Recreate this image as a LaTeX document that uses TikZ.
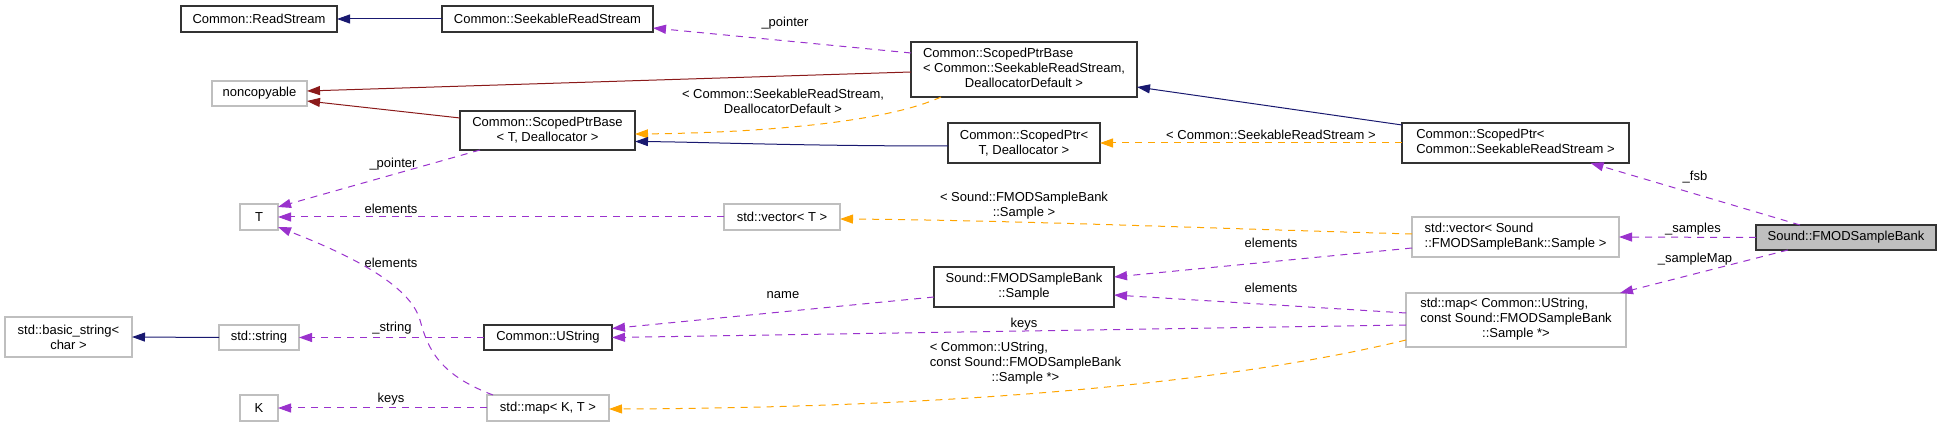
\documentclass[tikz,border=0pt]{standalone}
\usepackage{fontspec}
\setmainfont{Liberation Sans}
\usetikzlibrary{arrows.meta,calc}
\definecolor{inhblue}{HTML}{191970}
\definecolor{privred}{HTML}{8B1A1A}
\definecolor{usepurple}{HTML}{9A32CD}
\definecolor{tmplorange}{HTML}{FFA500}
\definecolor{boxgray}{HTML}{BFBFBF}
\newcommand{\LL}[1]{\begin{tabular}{@{}l@{}}#1\end{tabular}}
\newcommand{\CL}[1]{\multicolumn{1}{@{}c@{}}{#1}}
\begin{document}
\begin{tikzpicture}[x=1pt,y=-1pt,
  every node/.style={font=\fontsize{13}{15}\selectfont, inner sep=0pt, outer sep=0pt},
  cls/.style={draw=black!80, line width=1.1pt, rectangle, align=center, fill=white},
  ext/.style={draw=boxgray, line width=1.1pt, rectangle, align=center, fill=white},
  focal/.style={draw=black!80, line width=1.1pt, rectangle, align=center, fill=boxgray},
  lbl/.style={align=center},
  tip/.style={-{Triangle[length=13pt,width=9pt]}},
  inh/.style={draw=inhblue, line width=1pt, tip},
  priv/.style={draw=privred, line width=1pt, tip},
  use/.style={draw=usepurple, line width=1pt, dash pattern=on 7pt off 6pt, tip},
  tmpl/.style={draw=tmplorange, line width=1pt, dash pattern=on 7pt off 6pt, tip}
]
\useasboundingbox (0,0) rectangle (1941,427);

% nodes
\node[cls, minimum width=156pt, minimum height=26pt] (rs) at (259,19) {Common::ReadStream};
\node[cls, minimum width=211pt, minimum height=26pt] (srs) at (547.5,19) {Common::SeekableReadStream};
\node[ext, minimum width=95pt, minimum height=25pt] (nc) at (259.5,93.5) {noncopyable};
\node[cls, minimum width=175pt, minimum height=39pt] (spbT) at (547.5,130.5) {Common::ScopedPtrBase\\< T, Deallocator >};
\node[cls, minimum width=226pt, minimum height=55pt] (spbS) at (1024,69.5) {\LL{Common::ScopedPtrBase\\< Common::SeekableReadStream,\\\CL{DeallocatorDefault >}}};
\node[cls, minimum width=152pt, minimum height=40pt] (spT) at (1024,143) {Common::ScopedPtr<\\T, Deallocator >};
\node[cls, minimum width=227pt, minimum height=40pt] (spS) at (1515.5,143) {\LL{Common::ScopedPtr<\\\CL{ Common::SeekableReadStream >}}};
\node[ext, minimum width=38pt, minimum height=26pt] (T) at (259,217) {T};
\node[ext, minimum width=116pt, minimum height=26pt] (vecT) at (782,217) {std::vector< T >};
\node[ext, minimum width=207pt, minimum height=40pt] (vecS) at (1515.5,237) {\LL{std::vector< Sound\\::FMODSampleBank::Sample >}};
\node[focal, minimum width=180pt, minimum height=25pt] (fmod) at (1846,237.5) {Sound::FMODSampleBank};
\node[cls, minimum width=180pt, minimum height=40pt] (sample) at (1024,287) {Sound::FMODSampleBank\\::Sample};
\node[ext, minimum width=127pt, minimum height=40pt] (bstr) at (68.5,337) {std::basic\_string<\\char >};
\node[ext, minimum width=80pt, minimum height=25pt] (str) at (259,337.5) {std::string};
\node[cls, minimum width=128pt, minimum height=25pt] (ustr) at (548,337.5) {Common::UString};
\node[ext, minimum width=220pt, minimum height=54pt] (mapU) at (1516,320) {\LL{std::map< Common::UString,\\\CL{ const Sound::FMODSampleBank}\\\CL{::Sample *>}}};
\node[ext, minimum width=38pt, minimum height=26pt] (K) at (259,408) {K};
\node[ext, minimum width=122pt, minimum height=26pt] (mapKT) at (548,408) {std::map< K, T >};

% edge labels
\node[lbl] (l1) at (785,23) {\_pointer};
\node[lbl] (l2) at (783,101.5) {< Common::SeekableReadStream,\\DeallocatorDefault >};
\node[lbl] (l3) at (1271,135) {< Common::SeekableReadStream >};
\node[lbl] (l4) at (393,164) {\_pointer};
\node[lbl] (l5) at (391,209) {elements};
\node[lbl] (l6) at (1024,205.5) {< Sound::FMODSampleBank\\::Sample >};
\node[lbl] (l7) at (1271,243) {elements};
\node[lbl] (l8) at (1271,288) {elements};
\node[lbl] (l9) at (391,263) {elements};
\node[lbl] (l10) at (783,295) {name};
\node[lbl] (l11) at (1024,324) {keys};
\node[lbl] (l12) at (392,328) {\_string};
\node[lbl] (l13) at (391,399) {keys};
\node[lbl] (l14) at (1025.5,363.5) {\LL{< Common::UString,\\const Sound::FMODSampleBank\\\CL{::Sample *>}}};
\node[lbl] (l15) at (1695,177) {\_fsb};
\node[lbl] (l16) at (1693,229) {\_samples};
\node[lbl] (l17) at (1695,259) {\_sampleMap};

% edges
\draw[inh] (srs.west) -- (rs.east);
\draw[use] ($(spbS.west)+(0,-16.5)$) -- ($(srs.east)+(0,9)$);
\draw[priv] ($(spbS.west)+(0,2.5)$) -- ($(nc.east)+(0,-2.5)$);
\draw[priv] ($(spbT.west)+(0,-12.5)$) -- ($(nc.east)+(0,7.5)$);
\draw[inh] ($(spS.west)+(0,-18)$) -- ($(spbS.east)+(0,17.5)$);
\draw[tmpl] ($(spbS.south)+(-83,0)$) .. controls (880,125) and (740,133) .. ($(spbT.east)+(0,3.5)$);
\draw[inh] ($(spT.west)+(0,3)$) .. controls (800,146) and (700,142) .. ($(spbT.east)+(0,11)$);
\draw[tmpl] (spS.west) -- (spT.east);
\draw[use] ($(spbT.south)+(-67.5,0)$) -- ($(T.north east)+(0,3)$);
\draw[use] (vecT.west) -- (T.east);
\draw[tmpl] ($(vecS.west)+(0,-3)$) .. controls (1200,228) and (1000,220) .. ($(vecT.east)+(0,2)$);
\draw[use] ($(vecS.west)+(0,11)$) -- ($(sample.east)+(0,-10)$);
\draw[use] ($(mapU.west)+(0,-7)$) -- ($(sample.east)+(0,8)$);
\draw[use] ($(mapU.west)+(0,5)$) -- (ustr.east);
\draw[use] ($(sample.west)+(0,10)$) -- ($(ustr.east)+(0,-9)$);
\draw[use] (ustr.west) -- (str.east);
\draw[inh] (str.west) -- (bstr.east);
\draw[use] ($(mapKT.north west)+(6,0)$) .. controls (440,375) and (428,350) .. (420,320) .. controls (410,285) and (350,255) .. ($(T.east)+(0,10)$);
\draw[use] (mapKT.west) -- (K.east);
\draw[tmpl] ($(mapU.west)+(0,20)$) .. controls (1200,390) and (900,408) .. ($(mapKT.east)+(0,1)$);
\draw[use] ($(fmod.north)+(-46,0)$) -- ($(spS.south)+(75,0)$);
\draw[use] (fmod.west) -- (vecS.east);
\draw[use] ($(fmod.south)+(-58,0)$) -- ($(mapU.north east)+(-6,0)$);
\end{tikzpicture}
\end{document}
